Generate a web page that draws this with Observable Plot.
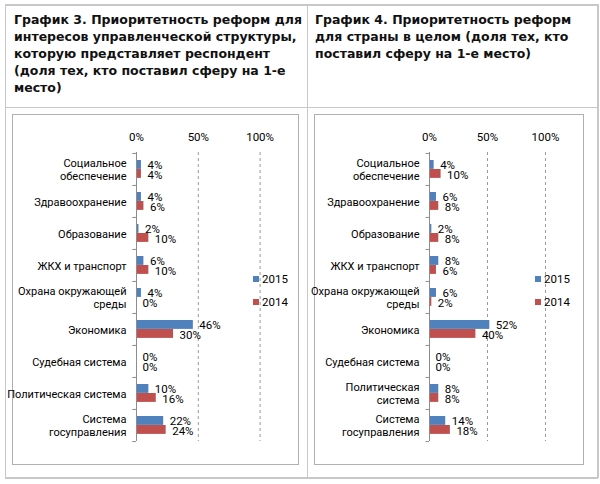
<!DOCTYPE html>
<html><head><meta charset="utf-8">
<script src="https://cdn.jsdelivr.net/npm/d3@7"></script>
<script src="https://cdn.jsdelivr.net/npm/@observablehq/plot@0.6"></script>
<style>
body{margin:0;background:#fff;}
#page{position:relative;width:600px;height:484px;overflow:hidden;font-family:Roboto,sans-serif;}
.ln{position:absolute;background:#c8c8c8;}
.title{position:absolute;top:11px;font-family:"DejaVu Sans",Verdana,sans-serif;font-weight:bold;font-size:12.5px;line-height:17px;color:#111;}
.box{position:absolute;top:114px;height:351px;border:1.5px solid #b0b0b0;box-sizing:border-box;}
.box svg{display:block;}
.lg{position:absolute;font-size:11.5px;line-height:12px;color:#000;font-family:Roboto,sans-serif;}
.sw{position:absolute;width:6px;height:6px;}
</style></head>
<body><div id="page">
<div class="ln" style="left:5px;top:4px;width:593px;height:1.5px"></div>
<div class="ln" style="left:5px;top:106.5px;width:593px;height:1.5px"></div>
<div class="ln" style="left:5px;top:477px;width:593px;height:1.5px"></div>
<div class="ln" style="left:4.5px;top:4px;width:1.5px;height:474px"></div>
<div class="ln" style="left:306.5px;top:4px;width:1.5px;height:474px"></div>
<div class="ln" style="left:597px;top:4px;width:1.5px;height:474px"></div>
<div class="title" style="left:14px;width:290px">График 3. Приоритетность реформ для интересов управленческой структуры, которую представляет респондент (доля тех, кто поставил сферу на 1-е место)</div>
<div class="title" style="left:315px;width:280px">График 4. Приоритетность реформ для страны в целом (доля тех, кто поставил сферу на 1-е место)</div>
<div class="box" id="boxL" style="left:12px;width:287px"></div>
<div class="box" id="boxR" style="left:313.5px;width:270px"></div>
</div>
<script>
const categories = ["Социальное обеспечение","Здравоохранение","Образование","ЖКХ и транспорт","Охрана окружающей среды","Экономика","Судебная система","Политическая система","Система госуправления"];
const labelsLeft = ["Социальное\nобеспечение","Здравоохранение","Образование","ЖКХ и транспорт","Охрана окружающей\nсреды","Экономика","Судебная система","Политическая система","Система\nгосуправления"];
const labelsRight = ["Социальное\nобеспечение","Здравоохранение","Образование","ЖКХ и транспорт","Охрана окружающей\nсреды","Экономика","Судебная система","Политическая\nсистема","Система\nгосуправления"];
const left2015 = [4,4,2,6,4,46,0,10,22];
const left2014 = [4,6,10,10,0,30,0,16,24];
const right2015 = [4,6,2,8,6,52,0,8,14];
const right2014 = [10,8,8,6,2,40,0,8,18];
const years = ["2015","2014"];
const colors = ["#4F81BD","#C0504D"];
const xTicks = [0,50,100];

function chart(v15, v14, labels, W, ml, span) {
  const H = 348, mt = 37, mb = 22, mr = W - ml - span;
  const rows = categories.map((c,i)=>({cat:c, v15:v15[i], v14:v14[i], lab:labels[i]}));
  const bw = (H - mt - mb) / categories.length;
  const lab = new Map(rows.map(r=>[r.cat, r.lab]));
  return Plot.plot({
    width: W, height: H, marginLeft: ml, marginRight: mr, marginTop: mt, marginBottom: mb,
    x: {domain:[0,100]},
    y: {domain: categories, padding: 0},
    style: {fontFamily:"Roboto, sans-serif", fontSize:"11px", color:"#000", background:"transparent", overflow:"visible"},
    marks: [
      Plot.ruleX([50,100], {stroke:"#9a9a9a", strokeDasharray:"3,3", strokeWidth:1}),
      Plot.barX(rows, {x:"v15", y:"cat", fill:colors[0], insetTop:7, insetBottom:bw-16}),
      Plot.barX(rows, {x:"v14", y:"cat", fill:colors[1], insetTop:16, insetBottom:bw-25}),
      Plot.ruleX([0], {stroke:"#8c8c8c"}),
      Plot.ruleY(categories, {y:d=>d, x1:-3, x2:0, dy:-bw/2, stroke:"#8c8c8c"}),
      Plot.ruleY(categories.slice(-1), {y:d=>d, x1:-3, x2:0, dy:bw/2, stroke:"#8c8c8c"}),
      Plot.text(rows, {x:"v15", y:"cat", text:d=>d.v15+"%", textAnchor:"start", dx:6, dy:-4, fill:"#000", fontSize:11.5}),
      Plot.text(rows, {x:"v14", y:"cat", text:d=>d.v14+"%", textAnchor:"start", dx:6, dy:6, fill:"#000", fontSize:11.5}),
      Plot.axisX({anchor:"top", ticks:xTicks, tickFormat:d=>d+"%", tickSize:0, tickPadding:12, label:null, fontSize:11.5}),
      Plot.axisY({anchor:"left", tickSize:0, tickPadding:10, tickFormat:d=>lab.get(d), label:null, lineHeight:1.15})
    ]
  });
}
document.getElementById("boxL").appendChild(chart(left2015, left2014, labelsLeft, 284, 123, 123.6));
document.getElementById("boxR").appendChild(chart(right2015, right2014, labelsRight, 267, 114, 116));

function legend(sqLeft, txtLeft) {
  const page = document.getElementById("page");
  years.forEach((y,i)=>{
    const top = 276 + i*23;
    const s = document.createElement("div"); s.className="sw";
    s.style.left = sqLeft+"px"; s.style.top = top+"px"; s.style.background = colors[i];
    page.appendChild(s);
    const t = document.createElement("div"); t.className="lg";
    t.style.left = txtLeft+"px"; t.style.top = (top-3)+"px"; t.textContent = y;
    page.appendChild(t);
  });
}
legend(253, 262);
legend(535, 544);
</script>
</body></html>
